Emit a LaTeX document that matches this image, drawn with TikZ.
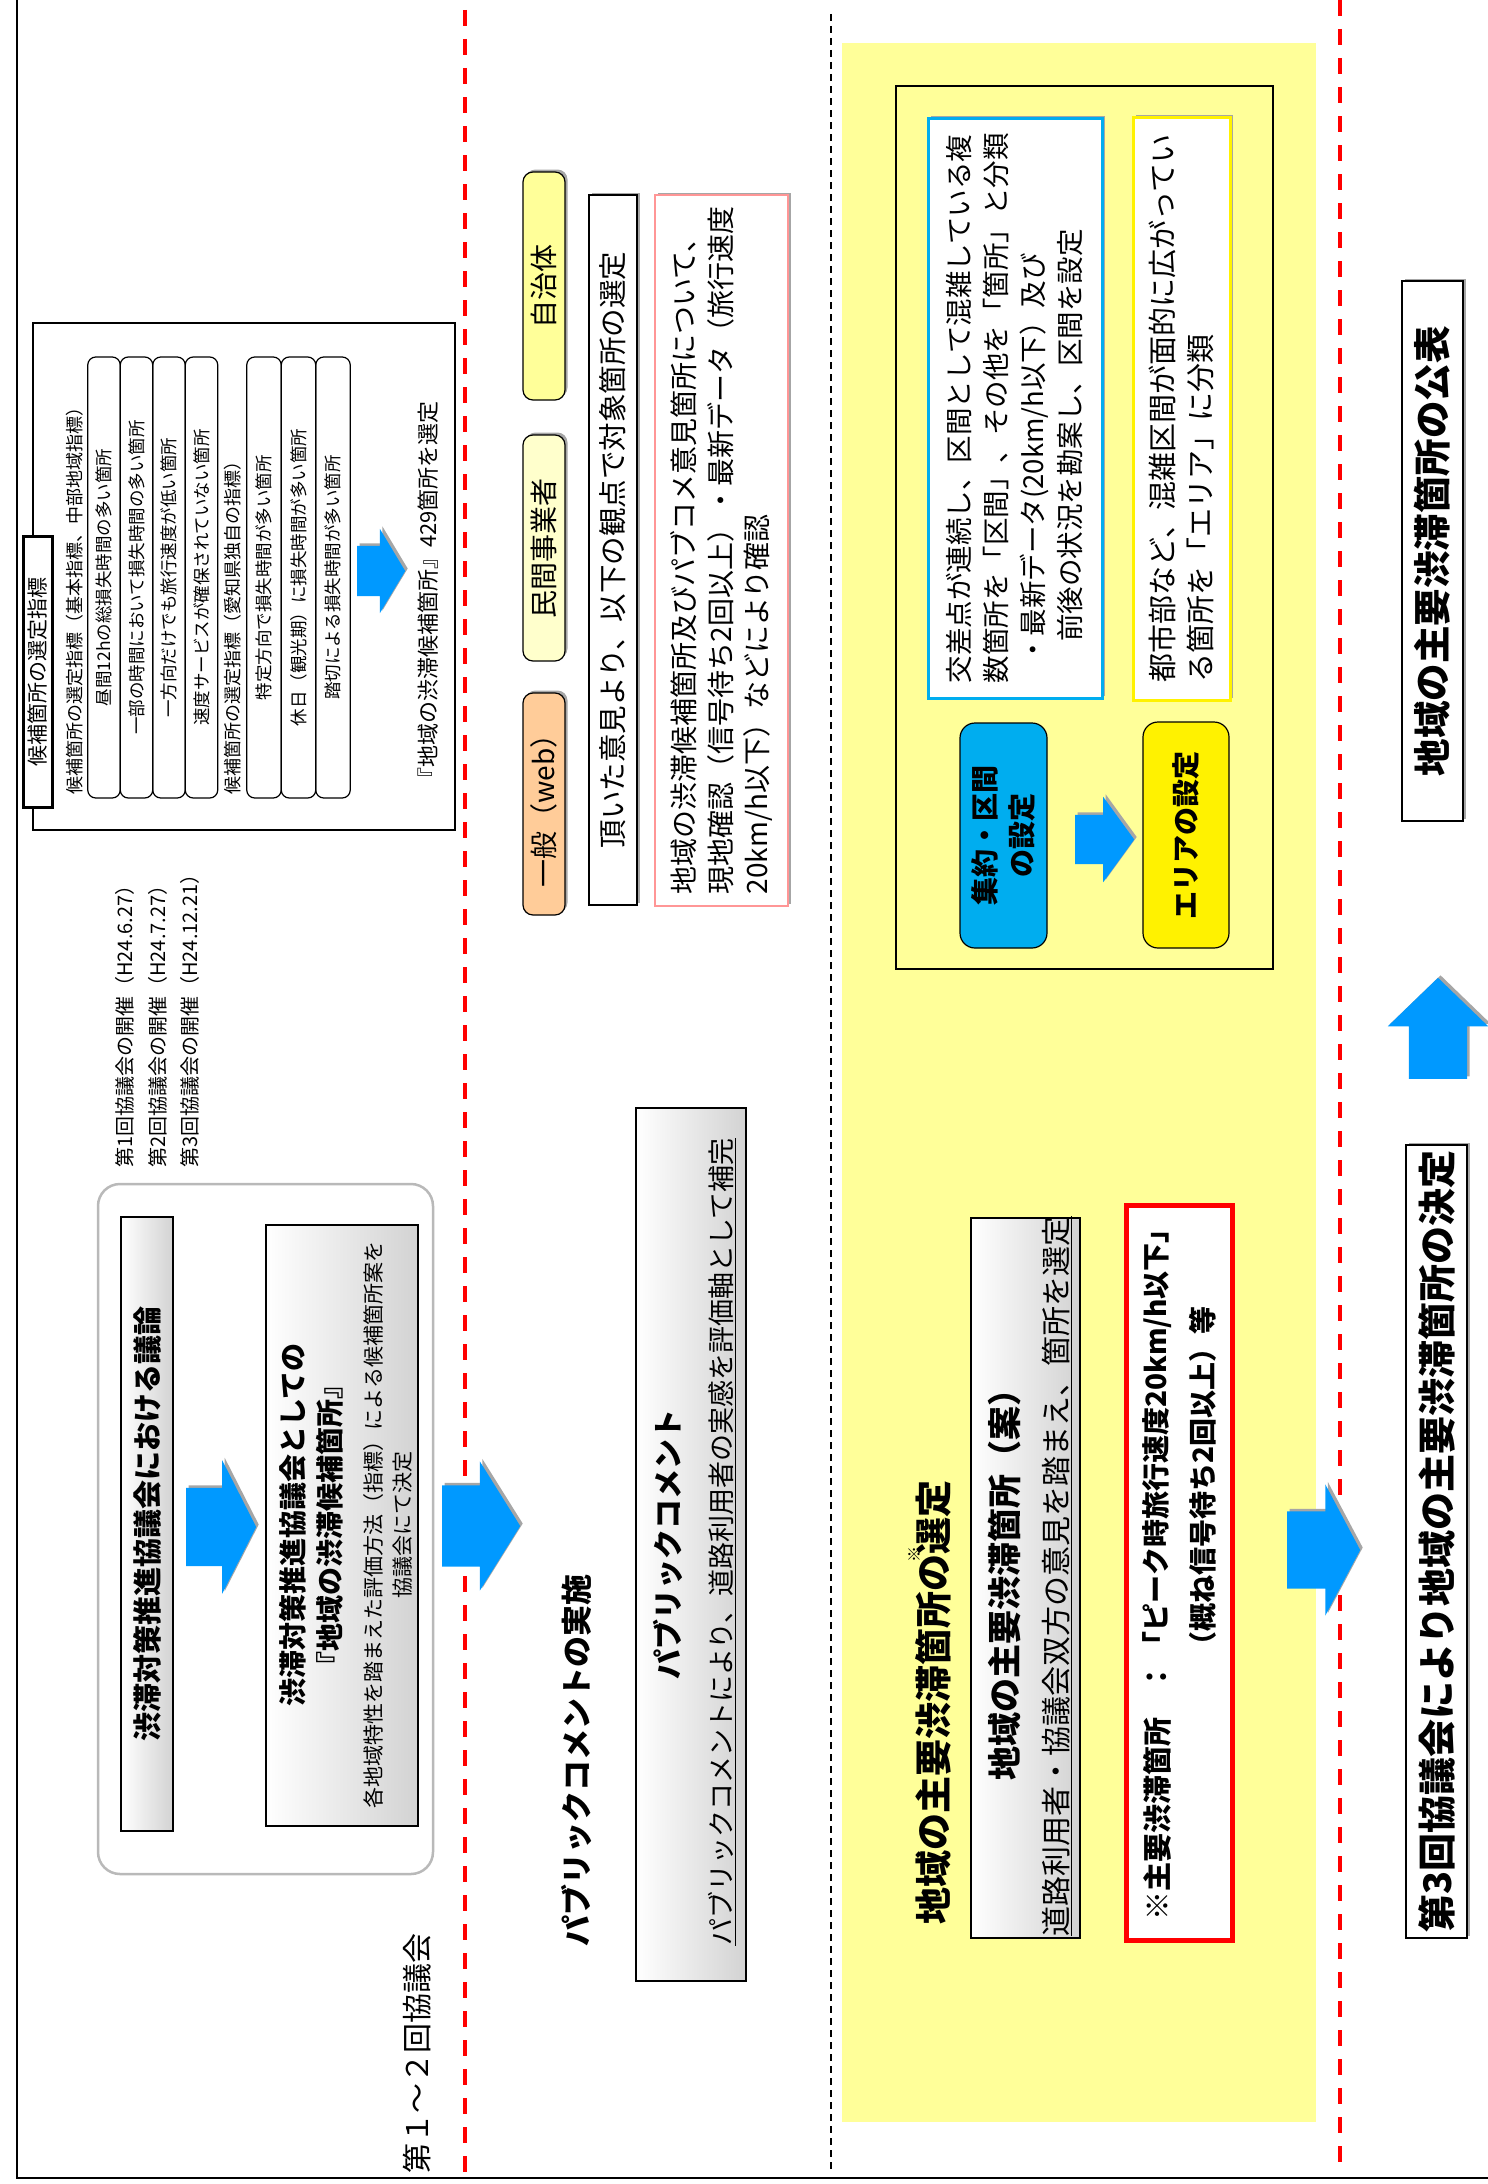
\documentclass[tikz,border=0pt]{standalone}
\usepackage{fontspec}
\setmainfont{Noto Sans CJK JP}
\usetikzlibrary{shapes.arrows,shadows}

\definecolor{arrowblue}{RGB}{0,153,255}
\definecolor{paleyellow}{RGB}{255,255,153}
\definecolor{creamyellow}{RGB}{255,255,204}
\definecolor{peach}{RGB}{255,204,153}
\definecolor{pinkline}{RGB}{255,150,150}

\newcommand{\fsz}[2]{\fontsize{#1}{#2}\selectfont}

\tikzset{
  vtext/.style={rotate=90, inner sep=0pt},
  vbox/.style={rotate=90, draw, line width=1.2pt, inner sep=0pt},
  greybox/.style={vbox, left color=white, right color=gray!35},
  pillbox/.style={vbox, rounded corners=10pt},
  listbox/.style={vbox, rounded corners=8pt, minimum width=441pt, minimum height=#1, font=\fsz{17.5}{20}},
  softshadow/.style={drop shadow={shadow xshift=2.5pt, shadow yshift=2.5pt, fill=gray!70, opacity=1}},
  bluearrow/.style={single arrow, anchor=tail, fill=arrowblue, inner sep=0pt, softshadow},
  reddash/.style={red, line width=4pt, dash pattern=on 16pt off 13pt},
}

\begin{document}
\begin{tikzpicture}[x=1pt, y=-1pt]
    \useasboundingbox (0,0) rectangle (1488,2184);

    % frame and column separators
    \draw[line width=2.5pt] (17,0) -- (17,2178) -- (1500,2178);
    \draw[reddash] (465,10) -- (465,2173);
    \draw[line width=1.2pt, dash pattern=on 7pt off 5pt] (831,14) -- (831,2173);
    \draw[reddash] (1340,0) -- (1340,2173);

    % 1st-2nd council: candidate indices
    \node[vbox, minimum width=507pt, minimum height=422pt] (cand) at (244,576.5) {};
    \node[vbox, line width=3pt, fill=white, minimum width=271pt, minimum height=29pt, font=\fsz{21}{24}] (candtitle) at (37.5,671.5) {候補箇所の選定指標};
    \node[vtext, anchor=west, font=\fsz{18}{20}] (basehead) at (75,795) {候補箇所の選定指標（基本指標、中部地域指標）};
    \node[listbox=32.5pt] (base1) at (104,577.5) {昼間12hの総損失時間の多い箇所};
    \node[listbox=32.5pt] (base2) at (136.5,577.5) {一部の時間において損失時間の多い箇所};
    \node[listbox=32.5pt] (base3) at (169,577.5) {一方向だけでも旅行速度が低い箇所};
    \node[listbox=32.5pt] (base4) at (201.5,577.5) {速度サービスが確保されていない箇所};
    \node[vtext, anchor=west, font=\fsz{18}{20}] (aichihead) at (233,795) {候補箇所の選定指標（愛知県独自の指標）};
    \node[listbox=34.5pt] (aichi1) at (264,577.5) {特定方向で損失時間が多い箇所};
    \node[listbox=34.5pt] (aichi2) at (298.5,577.5) {休日（観光期）に損失時間が多い箇所};
    \node[listbox=34.5pt] (aichi3) at (333,577.5) {踏切による損失時間が多い箇所};
    \node[bluearrow, inner ysep=25pt, minimum height=48pt, minimum width=84pt, single arrow head extend=17pt, single arrow tip angle=118] (candarrow) at (357,571) {};
    \node[vtext, anchor=west, font=\fsz{22}{24}] (candresult) at (428,790) {『地域の渋滞候補箇所』429箇所を選定};

    % meetings
    \node[vtext, anchor=west, font=\fsz{20}{22}] (meet1) at (125,1168) {第1回協議会の開催（H24.6.27）};
    \node[vtext, anchor=west, font=\fsz{20}{22}] (meet2) at (158,1168) {第2回協議会の開催（H24.7.27）};
    \node[vtext, anchor=west, font=\fsz{20}{22}] (meet3) at (190,1168) {第3回協議会の開催（H24.12.21）};

    % council discussion
    \node[vbox, draw=gray!55, line width=2.5pt, rounded corners=22pt, minimum width=690pt, minimum height=335pt] (council) at (265.5,1529) {};
    \node[greybox, minimum width=614pt, minimum height=52pt, font=\bfseries\fsz{29}{32}] (discuss) at (147,1524) {渋滞対策推進協議会における議論};
    \node[bluearrow, inner ysep=39pt, minimum height=70pt, minimum width=133pt, single arrow head extend=27.5pt, single arrow tip angle=126] (arrA) at (186,1527) {};
    \node[greybox, minimum width=601pt, minimum height=152pt] (candidates) at (342,1525.5) {};
    \node[vtext, align=center, font=\bfseries\fsz{28}{37}] (candname) at (311.5,1525) {渋滞対策推進協議会としての\\『地域の渋滞候補箇所』};
    \node[vtext, align=center, font=\fsz{21}{29}] (candnote) at (387.5,1525) {各地域特性を踏まえた評価方法（指標）による候補箇所案を\\協議会にて決定};
    \node[vtext, anchor=west, font=\fsz{30}{32}] (councillabel) at (417,2174) {第１〜２回協議会};

    \node[bluearrow, inner ysep=40.5pt, minimum height=78pt, minimum width=129pt, single arrow head extend=24pt, single arrow tip angle=116] (arrB) at (442,1526) {};

    % public comment
    \node[pillbox, softshadow, fill=peach, minimum width=222pt, minimum height=42pt, font=\fsz{28}{30}] (pillgen) at (544,804) {一般（web）};
    \node[pillbox, softshadow, fill=creamyellow, minimum width=226pt, minimum height=42pt, font=\fsz{28}{30}] (pillbiz) at (544,548) {民間事業者};
    \node[pillbox, softshadow, fill=paleyellow, minimum width=228pt, minimum height=42pt, font=\fsz{28}{30}] (pillgov) at (544,286) {自治体};
    \node[vbox, fill=white, softshadow, minimum width=710pt, minimum height=48pt, font=\fsz{28.5}{30}] (viewpoint) at (613,550) {頂いた意見より、以下の観点で対象箇所の選定};
    \node[vbox, draw=pinkline, fill=white, softshadow, minimum width=711pt, minimum height=133pt, align=left, font=\fsz{28}{36.5}] (checkbox) at (721.5,550.5) {地域の渋滞候補箇所及びパブコメ意見箇所について、\\現地確認（信号待ち2回以上）・最新データ（旅行速度\\20km/h以下）などにより確認};
    \node[vtext, font=\bfseries\fsz{31}{33}] (pchead) at (577,1760) {パブリックコメントの実施};
    \node[greybox, minimum width=873pt, minimum height=110pt] (pcbox) at (691,1544.5) {};
    \node[vtext, font=\bfseries\fsz{30}{32}] (pctitle) at (668,1544) {パブリックコメント};
    \node[vtext, font=\fsz{27}{29}] (pcnote) at (722,1542) {\underline{パブリックコメントにより、道路利用者の実感を評価軸として補完}};

    % selection of the main congestion points
    \node[fill=paleyellow, inner sep=0pt, minimum width=474pt, minimum height=2079pt] (selpanel) at (1079,1082.5) {};
    \node[draw, line width=1.2pt, inner sep=0pt, minimum width=377pt, minimum height=883pt] (setframe) at (1084.5,527.5) {};
    \node[vbox, draw=cyan, line width=3pt, fill=white, softshadow, minimum width=580pt, minimum height=174pt, align=left, font=\fsz{27.5}{37}] (sectbox) at (1015,408) {交差点が連続し、区間として混雑している複\\数箇所を「区間」、その他を「箇所」と分類\\\hspace*{0.7em}・最新データ(20km/h以下）及び\\\hspace*{1.5em}前後の状況を勘案し、区間を設定};
    \node[vbox, draw=yellow, line width=3pt, fill=white, softshadow, minimum width=583pt, minimum height=97pt, align=left, font=\fsz{29}{38}] (areabox) at (1181.5,408.5) {都市部など、混雑区間が面的に広がってい\\る箇所を「エリア」に分類};
    \node[pillbox, rounded corners=15pt, fill=cyan, minimum width=225pt, minimum height=87pt, align=center, font=\bfseries\fsz{28}{37}] (sectpill) at (1003.5,835.5) {集約・区間\\の設定};
    \node[bluearrow, inner ysep=24.5pt, minimum height=59pt, minimum width=85pt, single arrow head extend=18pt, single arrow tip angle=108] (arrC) at (1075,839.5) {};
    \node[pillbox, rounded corners=15pt, fill=yellow, minimum width=226pt, minimum height=86pt, font=\bfseries\fsz{28}{30}] (areapill) at (1186,835) {エリアの設定};

    \node[vtext, font=\bfseries\fsz{37}{40}] (mainhead) at (930,1702) {地域の主要渋滞箇所の\makebox[0pt]{\raisebox{0.75em}{\fsz{16}{16}※}}選定};
    \node[greybox, minimum width=720pt, minimum height=109pt] (mainbox) at (1025.5,1578) {};
    \node[vtext, font=\bfseries\fsz{34}{36}] (maintitle) at (1005,1576) {地域の主要渋滞箇所（案）};
    \node[vtext, font=\fsz{30}{32}] (mainnote) at (1057,1576) {\underline{道路利用者・協議会双方の意見を踏まえ、箇所を選定}};
    \node[vbox, draw=red, line width=5pt, fill=white, minimum width=735pt, minimum height=106pt] (defbox) at (1179,1572.5) {};
    \node[vtext, anchor=west, font=\bfseries\fsz{29}{31}] (deftag) at (1157,1921) {※主要渋滞箇所};
    \node[vtext, font=\bfseries\fsz{29}{31}] (defcolon) at (1157,1677) {：};
    \node[vtext, anchor=west, font=\bfseries\fsz{28}{30}] (defcrit) at (1157,1660) {「ピーク時旅行速度20km/h以下」};
    \node[vtext, anchor=west, font=\bfseries\fsz{28}{30}] (defnote) at (1203,1660) {（概ね信号待ち2回以上）等};

    \node[bluearrow, inner ysep=38.5pt, minimum height=73pt, minimum width=131pt, single arrow head extend=27pt, single arrow tip angle=124] (arrD) at (1287,1550) {};

    % 3rd council: decision and publication
    \node[vbox, fill=white, softshadow, minimum width=540pt, minimum height=61pt, font=\bfseries\fsz{37.5}{40}] (pubbox) at (1432.5,551) {地域の主要渋滞箇所の公表};
    \node[bluearrow, shape border rotate=90, inner xsep=29pt, minimum height=101pt, minimum width=100pt, single arrow head extend=21pt, single arrow tip angle=92] (arrE) at (1438,1079) {};
    \node[vbox, fill=white, softshadow, minimum width=793pt, minimum height=61pt, font=\bfseries\fsz{38}{40}] (decbox) at (1436.5,1541.5) {第3回協議会により地域の主要渋滞箇所の決定};

\end{tikzpicture}
\end{document}
